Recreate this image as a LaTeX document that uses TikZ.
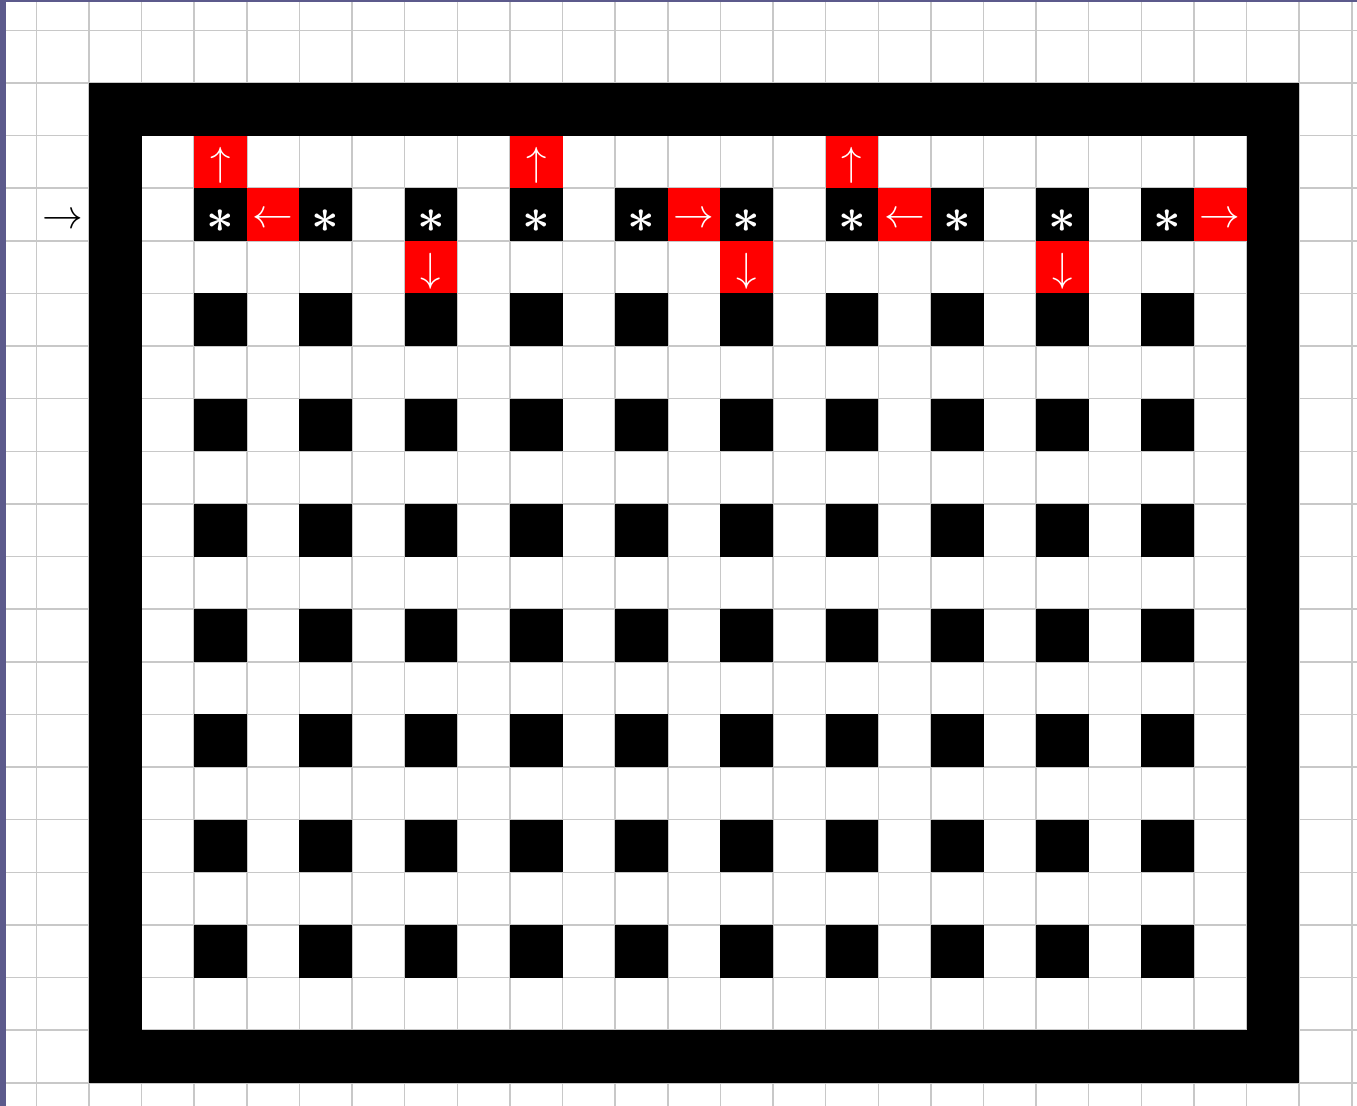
\documentclass[tikz,border=0pt]{standalone}
\usepackage{bm}
\definecolor{gridgray}{RGB}{200,200,200}
\definecolor{edgeblue}{RGB}{92,90,140}
\definecolor{cellred}{RGB}{255,0,0}
\begin{document}
\begin{tikzpicture}[x=1cm,y=-1cm,
  gridline/.style={gridgray,line width=0.8pt},
  wall/.style={fill=black},
  blockcell/.style={fill=black},
  redcell/.style={fill=cellred},
  glyph/.style={inner sep=0pt,scale=2.2,text=white},
  astglyph/.style={inner sep=0pt,scale=2.6,text=white},
  entry/.style={inner sep=0pt,scale=2.2,text=black}]
\def\xl{-1.691}\def\xr{24.098}\def\yt{-1.577}\def\yb{19.441}
\useasboundingbox (\xl,\yt) rectangle (\xr,\yb);
\begin{scope}
\clip (\xl,\yt) rectangle (\xr,\yb);
\fill[white] (\xl,\yt) rectangle (\xr,\yb);
% grid
\foreach \i in {-1,...,24} \draw[gridline] (\i,\yt) -- (\i,\yb);
\foreach \j in {-1,...,19} \draw[gridline] (\xl,\j) -- (\xr,\j);
% outer wall
\fill[wall] (0,0) rectangle (23,1);
\fill[wall] (0,18) rectangle (23,19);
\fill[wall] (0,0) rectangle (1,19);
\fill[wall] (22,0) rectangle (23,19);
% pillars
\foreach \i in {2,4,...,20} \foreach \j in {2,4,...,16}
  \fill[blockcell] (\i,\j) rectangle ++(1,1);
% red cells
\foreach \i/\j in {2/1,3/2,6/3,8/1,11/2,12/3,14/1,15/2,18/3,21/2}
  \fill[redcell] (\i,\j) rectangle ++(1,1);
% window edge strips
\fill[edgeblue] (\xl,\yt) rectangle ++(0.114,21.1);
\fill[edgeblue] (\xl,\yt) rectangle ++(25.9,0.04);
\end{scope}
% asterisks
\foreach \i in {2,4,...,20}
  \node[astglyph] (ast\i) at (\i+0.5,2.62) {$\bm{\ast}$};
% arrows in red cells
\node[glyph] (u1) at (2.5,1.57) {$\uparrow$};
\node[glyph] (l1) at (3.5,2.6) {$\leftarrow$};
\node[glyph] (d1) at (6.5,3.57) {$\downarrow$};
\node[glyph] (u2) at (8.5,1.57) {$\uparrow$};
\node[glyph] (r1) at (11.5,2.6) {$\rightarrow$};
\node[glyph] (d2) at (12.5,3.57) {$\downarrow$};
\node[glyph] (u3) at (14.5,1.57) {$\uparrow$};
\node[glyph] (l2) at (15.5,2.6) {$\leftarrow$};
\node[glyph] (d3) at (18.5,3.57) {$\downarrow$};
\node[glyph] (r2) at (21.5,2.6) {$\rightarrow$};
% entry arrow
\node[entry] (in) at (-0.49,2.62) {$\rightarrow$};
\end{tikzpicture}
\end{document}
